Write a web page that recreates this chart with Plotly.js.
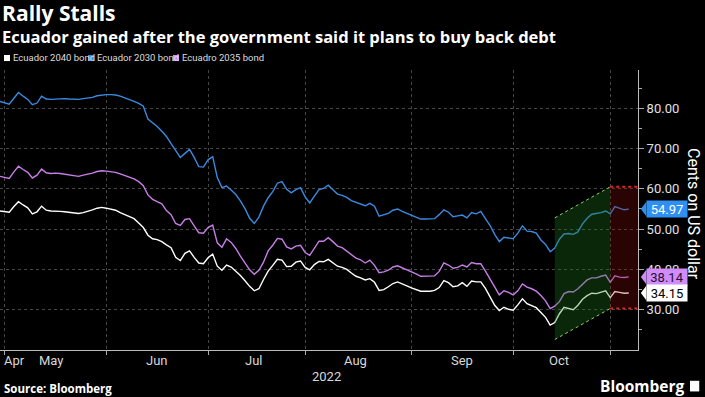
<!DOCTYPE html>
<html>
<head>
<meta charset="utf-8">
<script src="https://cdn.plot.ly/plotly-3.0.1.min.js"></script>
<style>
  html, body { margin: 0; padding: 0; background: #000; }
  #chart { width: 705px; height: 397px; }
</style>
</head>
<body>
<div id="chart"></div>
<script>
// ---- Data (trading days, 2022-04-29 .. 2022-11-07) ----
const startDate = '2022-04-29';
const endDate = '2022-11-07';

const ecuador2030 = [
  81.7, 81.3, 81.0, 82.5, 83.9, 83.0, 82.2, 80.9, 81.3, 83.0, 82.3, 82.2, 82.3, 82.3, 82.4, 82.3, 82.2, 82.2, 82.4, 82.5, 82.7, 83.1, 83.3, 83.4,
  83.4, 83.3, 83.0, 82.6, 82.1, 81.7, 81.2, 80.5, 77.3, 76.4, 75.5, 74.3, 73.0, 71.2, 69.5, 67.8, 68.8, 69.8, 67.8, 65.5, 65.4, 67.2, 68.0,
  62.8, 60.3, 60.7, 59.7, 58.6, 57.0, 55.1, 52.7, 51.4, 53.0, 55.7, 57.8, 59.3, 61.4, 61.8, 59.9, 59.0, 59.8, 60.3, 58.0, 56.5, 58.2, 59.8,
  60.1, 60.9, 59.8, 58.7, 58.4, 57.9, 57.1, 56.6, 56.3, 55.8, 56.4, 55.7, 53.2, 53.5, 53.9, 54.7, 55.0, 54.4, 53.9, 53.5, 52.8, 52.5, 52.5,
  52.5, 52.6, 53.6, 54.8, 54.2, 53.1, 53.3, 53.5, 52.8, 54.1, 53.8, 54.4, 52.6, 50.9, 48.7, 46.9, 48.0, 47.8, 47.6, 49.0, 50.8, 49.5, 49.4,
  49.0, 47.3, 46.2, 44.4, 45.3, 47.5, 48.8, 48.9, 48.7, 49.3, 51.3, 52.7, 53.7, 53.9, 54.1, 54.5, 53.8, 55.6, 55.2, 54.8, 54.97
];

const ecuador2035 = [
  63.1, 62.9, 62.6, 64.2, 65.6, 64.8, 64.1, 62.7, 63.4, 64.9, 64.0, 63.8, 63.9, 63.8, 63.6, 63.5, 63.3, 63.1, 63.4, 63.6, 63.9, 64.3, 64.5, 64.4,
  64.2, 64.1, 63.7, 63.3, 62.9, 62.5, 61.8, 60.8, 58.5, 57.4, 56.8, 56.3, 54.6, 53.6, 51.4, 50.9, 52.4, 52.6, 50.8, 49.1, 49.0, 50.4, 51.0,
  46.6, 45.5, 47.6, 46.7, 45.2, 43.3, 41.6, 39.9, 38.8, 39.8, 41.8, 44.6, 46.0, 47.7, 47.5, 45.6, 45.1, 45.8, 46.0, 44.2, 43.5, 45.3, 47.0,
  47.0, 47.9, 46.9, 45.8, 45.4, 44.6, 43.7, 42.8, 42.4, 41.6, 42.3, 41.0, 39.2, 39.4, 39.8, 40.6, 40.9, 40.4, 39.9, 39.6, 38.9, 38.3, 38.3,
  38.3, 38.4, 39.5, 41.6, 41.1, 40.3, 40.5, 41.1, 40.6, 41.7, 41.4, 41.4, 39.6, 37.7, 35.6, 33.7, 34.7, 34.3, 33.7, 34.7, 36.4, 35.6, 35.2,
  34.6, 33.5, 32.2, 30.3, 30.9, 32.0, 34.0, 34.5, 34.4, 35.2, 36.4, 37.4, 37.9, 37.9, 38.3, 38.6, 36.8, 38.4, 38.1, 38.0, 38.14
];

const ecuador2040 = [
  54.5, 54.3, 54.2, 55.6, 56.8, 56.0, 55.3, 53.8, 54.3, 55.7, 54.7, 54.5, 54.5, 54.4, 54.3, 54.2, 54.0, 53.9, 54.1, 54.4, 54.8, 55.2, 55.4, 55.2,
  54.9, 54.7, 54.1, 53.6, 53.1, 52.6, 51.5, 50.4, 48.5, 47.6, 47.4, 46.9, 46.1, 45.4, 43.0, 42.2, 44.0, 44.6, 43.0, 41.6, 41.4, 42.9, 43.8,
  40.8, 39.8, 41.1, 40.6, 39.6, 38.5, 37.2, 35.8, 34.7, 35.2, 37.5, 39.6, 41.0, 42.5, 42.3, 40.7, 40.8, 41.8, 42.1, 40.5, 39.9, 41.2, 42.0,
  41.9, 42.5, 41.6, 40.8, 40.5, 40.0, 39.1, 38.3, 37.9, 37.4, 37.7, 36.8, 34.8, 35.0, 35.7, 36.5, 36.9, 36.3, 35.9, 35.4, 35.0, 34.6, 34.6,
  34.6, 34.8, 35.5, 37.2, 36.7, 35.7, 35.9, 36.7, 35.8, 37.1, 36.9, 36.9, 35.3, 33.2, 31.1, 29.8, 30.6, 30.1, 29.9, 31.2, 32.7, 31.5, 31.0,
  30.5, 29.3, 28.1, 26.2, 26.8, 29.0, 30.6, 30.3, 30.0, 31.1, 32.6, 33.5, 34.1, 34.0, 34.4, 34.7, 33.0, 34.5, 34.3, 34.1, 34.15
];

const seriesNames = ['Ecuador 2040 bond', 'Ecuador 2030 bond', 'Ecuadro 2035 bond'];
const seriesColors = ['#ffffff', '#3a8be0', '#c77ee8'];
const tagColors = ['#ffffff', '#2f8ff2', '#d08cf8'];
const tagTextColors = ['#000000', '#ffffff', '#2a1035'];

const monthBoundaries = ['2022-05-02', '2022-06-01', '2022-07-01', '2022-08-01', '2022-09-01', '2022-10-03', '2022-11-01'];
const monthLabelDates = ['2022-05-16', '2022-06-16', '2022-07-15', '2022-08-16', '2022-09-16', '2022-10-17'];
const monthLabels = ['May', 'Jun', 'Jul', 'Aug', 'Sep', 'Oct'];
const yTicks = [30, 40, 50, 60, 70, 80];
const yTickLabels = ['30.00', '40.00', '50.00', '60.00', '70.00', '80.00'];

// trading-day dates (weekdays)
function weekdays(a, b) {
  const out = [];
  const d = new Date(a + 'T00:00:00Z');
  const e = new Date(b + 'T00:00:00Z');
  while (d <= e) {
    const w = d.getUTCDay();
    if (w !== 0 && w !== 6) out.push(d.toISOString().slice(0, 10));
    d.setUTCDate(d.getUTCDate() + 1);
  }
  return out;
}
const dates = weekdays(startDate, endDate);

const allSeries = [ecuador2040, ecuador2030, ecuador2035];
const drawOrder = [1, 2, 0];
const traces = drawOrder.map(k => ({
  type: 'scatter', mode: 'lines', x: dates, y: allSeries[k], name: seriesNames[k],
  line: { color: seriesColors[k], width: 1.4 }, hoverinfo: 'skip'
}));

const font = 'Roboto, "Open Sans", sans-serif';
const gridCol = 'rgba(255,255,255,0.28)';

const annotations = [];
const shapes = [];
// subtitle
annotations.push({
  xref: 'paper', yref: 'paper', x: 0, y: 1.12, xanchor: 'left', yanchor: 'middle', showarrow: false,
  text: '<b>Ecuador gained after the government said it plans to buy back debt</b>',
  font: { family: '"Open Sans", sans-serif', size: 16.5, color: '#ffffff' }
});
// legend: coloured squares + labels
const legendSquareX = [4, 88, 173];
legendSquareX.forEach((px, k) => {
  shapes.push({ type: 'rect', xref: 'paper', yref: 'paper',
    x0: px / 638, x1: (px + 6) / 638, y0: 1.032, y1: 1.0535,
    fillcolor: tagColors[k], line: { width: 0 } });
  annotations.push({
    xref: 'paper', yref: 'paper', x: (px + 7) / 638, y: 1.043, xanchor: 'left', yanchor: 'middle', showarrow: false,
    text: seriesNames[k], font: { family: font, size: 9.5, color: '#dddddd' }
  });
});
// month labels
annotations.push({
  xref: 'paper', yref: 'paper', x: 0, y: 0, xanchor: 'left', yanchor: 'top', yshift: -1, xshift: 2, showarrow: false,
  text: 'Apr', font: { family: font, size: 13, color: '#d8d8d8' }
});
monthLabelDates.forEach((d, i) => annotations.push({
  xref: 'x', yref: 'paper', x: d, y: 0, xanchor: 'center', yanchor: 'top', yshift: -1, showarrow: false,
  text: monthLabels[i], font: { family: font, size: 13, color: '#d8d8d8' }
}));
annotations.push({
  xref: 'paper', yref: 'paper', x: 0.5125, y: 0, xanchor: 'center', yanchor: 'top', yshift: -17, showarrow: false,
  text: '2022', font: { family: font, size: 13, color: '#d8d8d8' }
});
// source & logo
annotations.push({
  xref: 'paper', yref: 'paper', x: 0, y: -0.136, xanchor: 'left', yanchor: 'middle', xshift: 2, showarrow: false,
  text: '<b>Source: Bloomberg</b>', font: { family: '"Open Sans", sans-serif', size: 11.5, color: '#ffffff' }
});
annotations.push({
  xref: 'paper', yref: 'paper', x: 1.077, y: -0.13, xanchor: 'right', yanchor: 'middle', showarrow: false,
  text: '<b>Bloomberg</b>', font: { family: '"Open Sans", sans-serif', size: 15.5, color: '#ffffff' }
});
// y axis title
annotations.push({
  xref: 'paper', yref: 'paper', x: 1.088, y: 0.485, xanchor: 'center', yanchor: 'middle', showarrow: false,
  textangle: 90, text: 'Cents on US dollar', font: { family: font, size: 16, color: '#ffffff' }
});
// last value tags
[1, 2, 0].forEach(k => {
  const v = allSeries[k][allSeries[k].length - 1];
  annotations.push({
    xref: 'paper', yref: 'y', x: 1.0125, y: v, xanchor: 'left', yanchor: 'middle', showarrow: false,
    text: v.toFixed(2), bgcolor: tagColors[k], width: 38, height: 14, borderpad: 1,
    font: { family: font, size: 13, color: tagTextColors[k] }
  });
  shapes.push({
    type: 'path', xref: 'paper', yref: 'y', layer: 'above',
    path: 'M 1.0045 ' + v + ' L 1.013 ' + (v + 1.8) + ' L 1.013 ' + (v - 1.8) + ' Z',
    fillcolor: tagColors[k], line: { width: 0 }
  });
});
// highlight regions
shapes.push({
  type: 'path', xref: 'x', yref: 'y', layer: 'above',
  path: 'M 2022-10-14,52.8 L 2022-11-01,60.5 L 2022-11-01,30.3 L 2022-10-14,22.6 Z',
  fillcolor: 'rgba(30,120,30,0.32)', line: { width: 0 }
});
shapes.push({ type: 'line', xref: 'x', yref: 'y', x0: '2022-10-14', x1: '2022-11-01', y0: 52.8, y1: 60.5,
  line: { color: '#8fd16a', width: 1, dash: 'dot' }, layer: 'above' });
shapes.push({ type: 'line', xref: 'x', yref: 'y', x0: '2022-10-14', x1: '2022-11-01', y0: 22.6, y1: 30.3,
  line: { color: '#8fd16a', width: 1, dash: 'dot' }, layer: 'above' });
shapes.push({
  type: 'rect', xref: 'x', yref: 'y', layer: 'above', x0: '2022-11-01', x1: '2022-11-09', y0: 30.3, y1: 60.5,
  fillcolor: 'rgba(150,10,10,0.28)', line: { width: 0 }
});
shapes.push({ type: 'line', xref: 'x', yref: 'y', x0: '2022-11-01', x1: '2022-11-09', y0: 60.5, y1: 60.5,
  line: { color: '#d02a2a', width: 2, dash: 'dot' }, layer: 'above' });
shapes.push({ type: 'line', xref: 'x', yref: 'y', x0: '2022-11-01', x1: '2022-11-09', y0: 30.3, y1: 30.3,
  line: { color: '#d02a2a', width: 2, dash: 'dot' }, layer: 'above' });
// logo icon
shapes.push({ type: 'rect', xref: 'paper', yref: 'paper', x0: 1.0815, x1: 1.096, y0: -0.148, y1: -0.11,
  fillcolor: '#ffffff', line: { width: 0 } });

const layout = {
  width: 705, height: 397,
  paper_bgcolor: '#000000', plot_bgcolor: '#000000',
  margin: { l: 0, r: 67, t: 70, b: 47 },
  showlegend: false,
  title: {
    text: '<b>Rally Stalls</b>', xref: 'container', yref: 'container', x: 0.003, y: 0.966,
    xanchor: 'left', yanchor: 'middle', font: { family: '"Open Sans", sans-serif', size: 21, color: '#ffffff' }
  },
  xaxis: {
    type: 'date', range: ['2022-04-29', '2022-11-09'],
    rangebreaks: [{ bounds: ['sat', 'mon'] }],
    tickmode: 'array', tickvals: monthBoundaries, showticklabels: false,
    ticks: 'outside', ticklen: 4, tickcolor: '#aaaaaa',
    showgrid: true, gridcolor: gridCol, griddash: 'dot', gridwidth: 1,
    showline: true, linecolor: '#bbbbbb', linewidth: 1, zeroline: false, fixedrange: true
  },
  yaxis: {
    side: 'right', range: [20, 89.5],
    tickmode: 'array', tickvals: yTicks, ticktext: yTickLabels,
    ticks: 'outside', ticklen: 5, tickcolor: '#aaaaaa',
    tickfont: { family: font, size: 13, color: '#e0e0e0' },
    showgrid: true, gridcolor: gridCol, griddash: 'dot',
    showline: true, linecolor: '#bbbbbb', zeroline: false,
    minor: { tickvals: [25, 35, 45, 55, 65, 75, 85], ticks: 'outside', ticklen: 3, tickcolor: '#aaaaaa', showgrid: false }
  },
  annotations: annotations,
  shapes: shapes
};

Plotly.newPlot('chart', traces, layout, { displayModeBar: false, staticPlot: true });
</script>
</body>
</html>
